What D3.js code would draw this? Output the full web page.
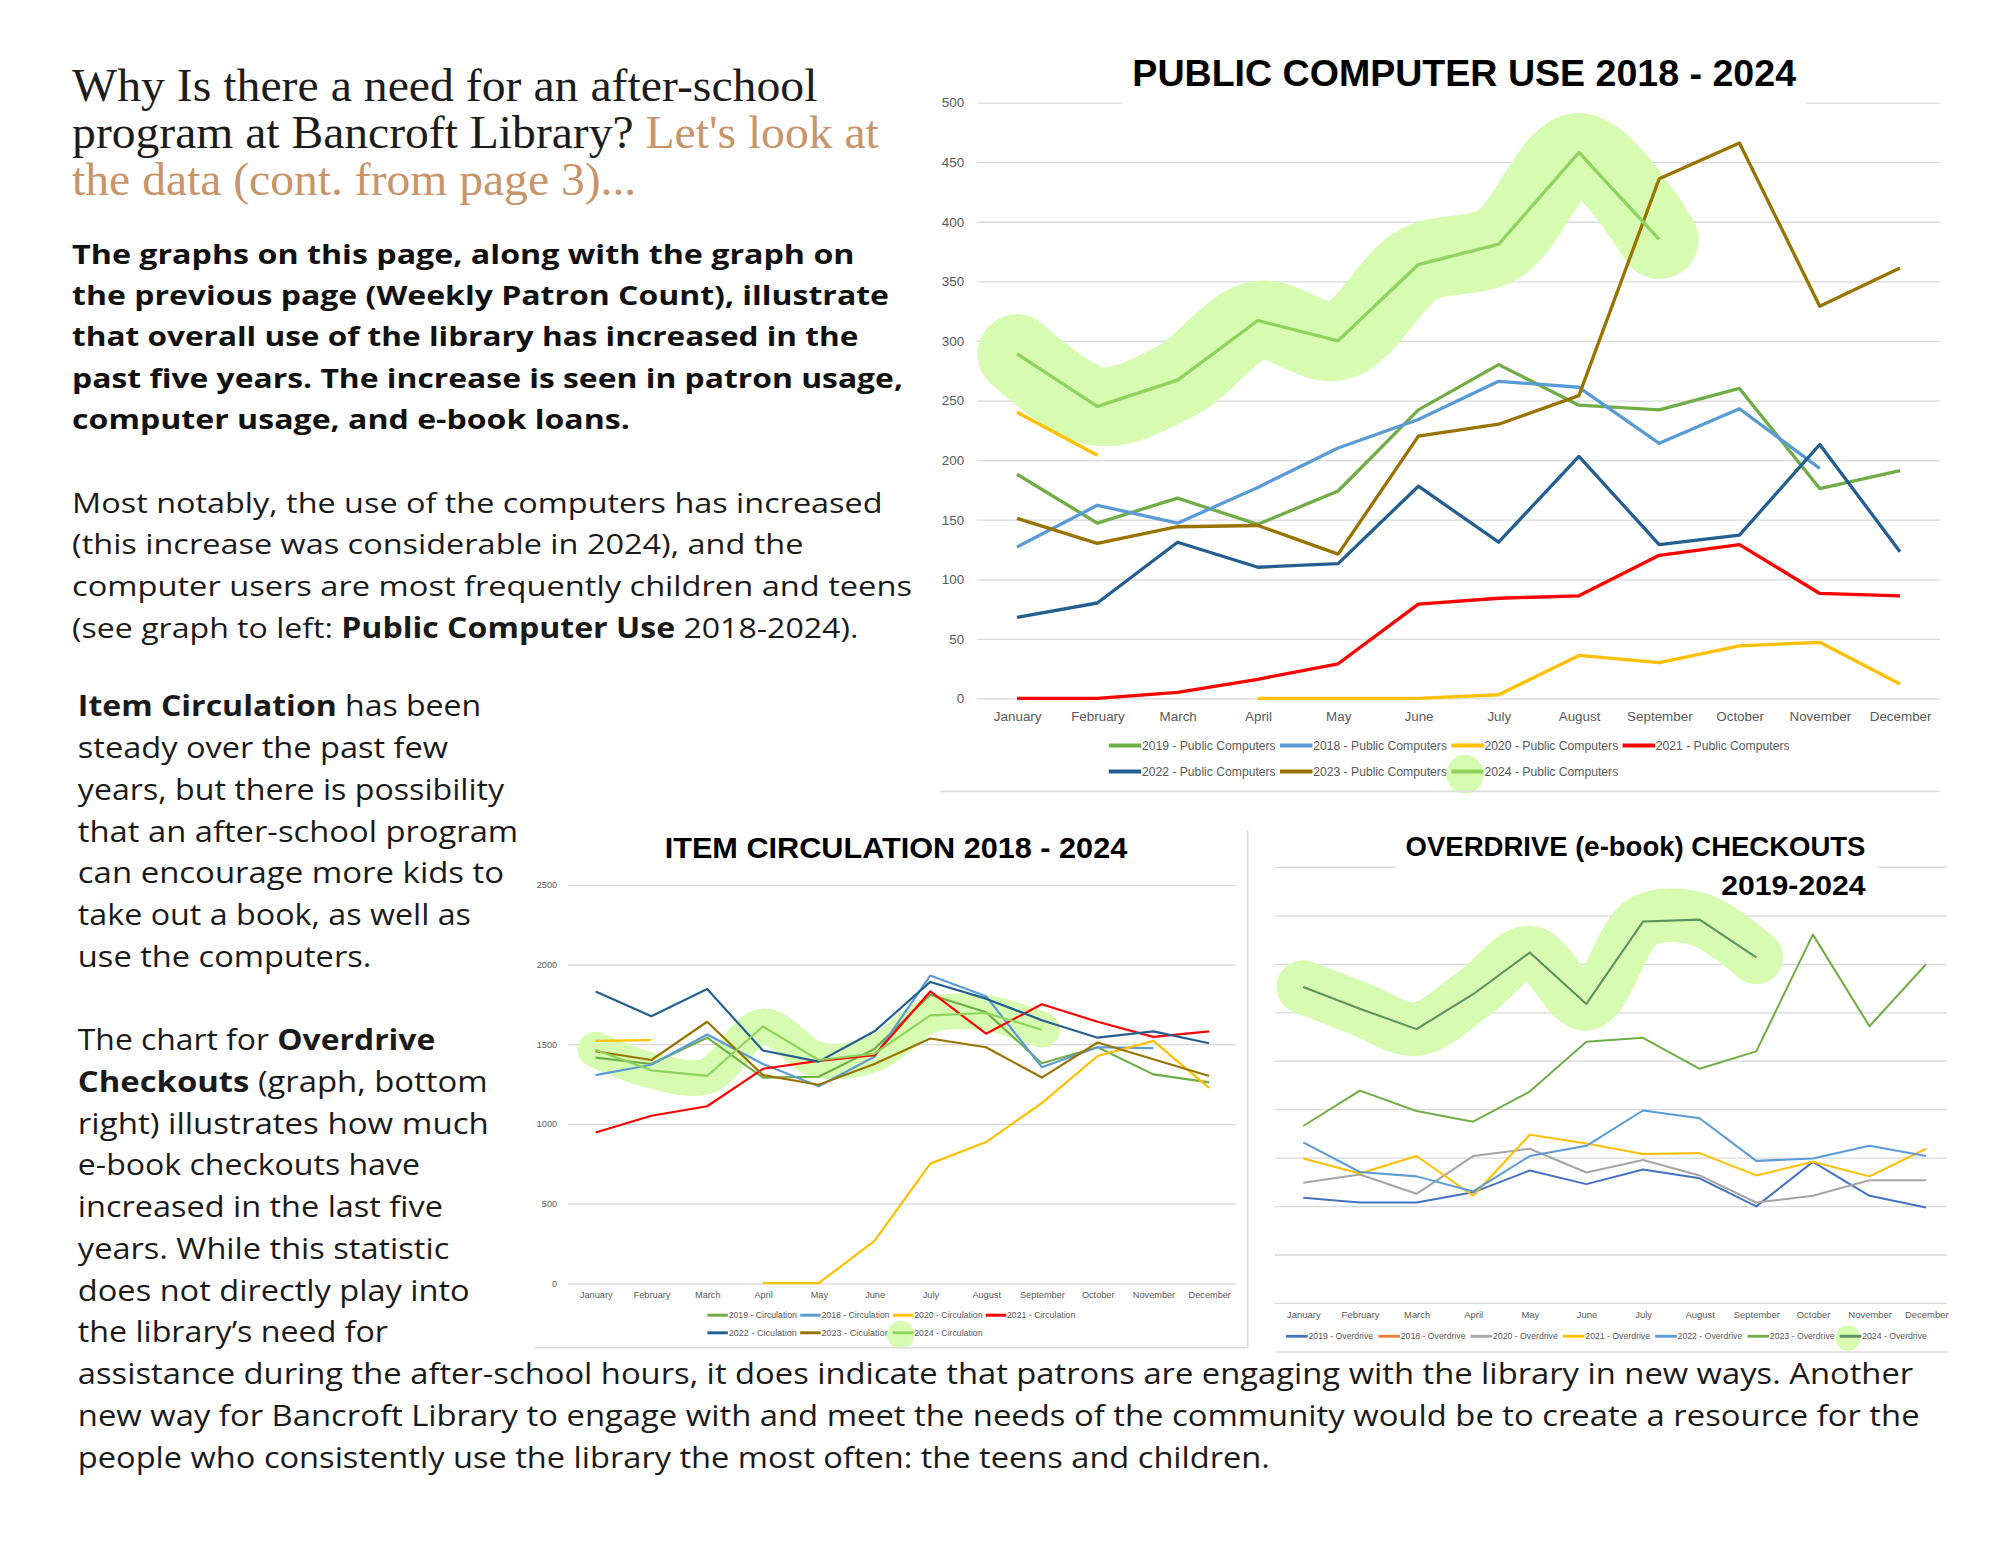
<!DOCTYPE html>
<html>
<head>
<meta charset="utf-8">
<script src="https://cdn.jsdelivr.net/npm/d3@7"></script>
<style>
  body { margin: 0; background: #fff; }
  svg { display: block; }
</style>
</head>
<body>
<script>
//month categories shared by the three charts
var months = ["January", "February", "March", "April", "May", "June",
              "July", "August", "September", "October", "November", "December"];

//public computer use
var pcNames = ["2019 - Public Computers", "2018 - Public Computers", "2020 - Public Computers",
               "2021 - Public Computers", "2022 - Public Computers", "2023 - Public Computers",
               "2024 - Public Computers"];
var pc2019 = [188, 147, 168, 146, 174, 242, 280, 246, 242, 260, 176, 191];
var pc2018 = [127, 162, 147, 177, 210, 234, 266, 261, 214, 243, 193, null];
var pc2020 = [240, 204, null, 0, 0, 0, 3, 36, 30, 44, 47, 12];
var pc2021 = [0, 0, 5, 16, 29, 79, 84, 86, 120, 129, 88, 86];
var pc2022 = [68, 80, 131, 110, 113, 178, 131, 203, 129, 137, 213, 123];
var pc2023 = [151, 130, 144, 145, 121, 220, 230, 254, 436, 466, 329, 361];
var pc2024 = [289, 245, 267, 317, 300, 364, 381, 458, 385, null, null, null];
var pcTicks = [0, 50, 100, 150, 200, 250, 300, 350, 400, 450, 500];

//item circulation
var icNames = ["2019 - Circulation", "2018 - Circulation", "2020 - Circulation",
               "2021 - Circulation", "2022 - Ciculation", "2023 - Ciculation",
               "2024 - Circulation"];
var ic2019 = [1415, 1375, 1540, 1290, 1295, 1470, 1810, 1700, 1380, 1480, 1310, 1260];
var ic2018 = [1305, 1370, 1560, 1375, 1235, 1420, 1930, 1800, 1355, 1480, 1475, null];
var ic2020 = [1520, 1525, null, 0, 0, 265, 750, 885, 1130, 1425, 1520, 1225];
var ic2021 = [945, 1050, 1110, 1345, 1395, 1430, 1830, 1565, 1750, 1640, 1545, 1580];
var ic2022 = [1830, 1675, 1845, 1460, 1390, 1580, 1890, 1785, 1650, 1540, 1580, 1505];
var ic2023 = [1455, 1400, 1640, 1305, 1245, 1375, 1535, 1480, 1290, 1510, 1405, 1300];
var ic2024 = [1465, 1335, 1300, 1610, 1400, 1440, 1680, 1695, 1590, null, null, null];
var icTicks = [0, 500, 1000, 1500, 2000, 2500];

//overdrive checkouts (no value labels on the original, read in grid units)
var odNames = ["2019 - Overdrive", "2018 - Overdrive", "2020 - Overdrive", "2021 - Overdrive",
               "2022 - Overdrive", "2023 - Overdrive", "2024 - Overdrive"];
var od2019 = [217, 207, 207, 228, 273, 245, 275, 257, 199, 291, 221, 197];
var od2018 = [null, null, null, null, null, null, null, null, null, null, null, null];
var od2020 = [248, 265, 225, 303, 318, 269, 295, 263, 207, 221, 253, 253];
var od2021 = [298, 267, 303, 221, 347, 329, 307, 309, 263, 291, 261, 318];
var od2022 = [331, 270, 261, 230, 303, 324, 397, 381, 293, 298, 324, 303];
var od2023 = [365, 438, 396, 374, 436, 539, 547, 483, 519, 760, 571, 699];
var od2024 = [652, 607, 565, 637, 723, 617, 787, 791, 713, null, null, null];
var odTicks = [0, 100, 200, 300, 400, 500, 600, 700, 800, 900];

//page text
var headingLines = [
    [["Why Is there a need for an after-school", 0]],
    [["program at Bancroft Library? ", 0], ["Let's look at", 1]],
    [["the data (cont. from page 3)...", 1]]
];
var boldLines = [
    "The graphs on this page, along with the graph on",
    "the previous page (Weekly Patron Count), illustrate",
    "that overall use of the library has increased in the",
    "past five years. The increase is seen in patron usage,",
    "computer usage, and e-book loans."
];
var notablyLines = [
    [["Most notably, the use of the computers has increased", 0]],
    [["(this increase was considerable in 2024), and the", 0]],
    [["computer users are most frequently children and teens", 0]],
    [["(see graph to left: ", 0], ["Public Computer Use", 1], [" 2018-2024).", 0]]
];
var lowerLines = [
    [["Item Circulation", 1], [" has been", 0]],
    [["steady over the past few", 0]],
    [["years, but there is possibility", 0]],
    [["that an after-school program", 0]],
    [["can encourage more kids to", 0]],
    [["take out a book, as well as", 0]],
    [["use the computers.", 0]],
    null,
    [["The chart for ", 0], ["Overdrive", 1]],
    [["Checkouts", 1], [" (graph, bottom", 0]],
    [["right) illustrates how much", 0]],
    [["e-book checkouts have", 0]],
    [["increased in the last five", 0]],
    [["years. While this statistic", 0]],
    [["does not directly play into", 0]],
    [["the library\u2019s need for", 0]],
    [["assistance during the after-school hours, it does indicate that patrons are engaging with the library in new ways. Another", 0]],
    [["new way for Bancroft Library to engage with and meet the needs of the community would be to create a resource for the", 0]],
    [["people who consistently use the library the most often: the teens and children.", 0]]
];

//line widths measured from the page, used to fit the substitute fonts
var headingWidths = [584, 632, 442];
var boldWidths = [613, 640, 616, 651, 437];
var notablyWidths = [635, 573, 658, 616];
var lowerWidths = [316, 290, 334, 345, 334, 308, 230, 0, 280, 321, 322, 268, 286, 291, 307, 243, 1438, 1443, 934];

var highlight = "#d6fbb1";
var chartFont = "'Liberation Sans Narrow', 'Liberation Sans', sans-serif";
var bodyFont = "'Open Sans', 'Noto Sans', sans-serif";

var svg = d3.select("body").append("svg")
    .attr("width", 2000)
    .attr("height", 1545)
    .attr("viewBox", "0 0 1567 1210");

svg.append("rect").attr("width", 1567).attr("height", 1210).attr("fill", "#fff");

//write a block of lines, each line a list of [text, flag] segments
function writeLines(lines, widths, opt){
    lines.forEach(function(line, i){
        if (!line) return;
        var t = svg.append("text")
            .attr("x", opt.x)
            .attr("y", opt.y + i * opt.step)
            .attr("font-family", opt.font)
            .attr("font-size", opt.size)
            .attr("fill", opt.color)
            .attr("font-weight", opt.weight || 400)
            .attr("textLength", widths[i])
            .attr("lengthAdjust", "spacingAndGlyphs");
        line.forEach(function(seg){
            var s = t.append("tspan").text(seg[0]);
            if (seg[1] && opt.flagColor) s.attr("fill", opt.flagColor);
            if (seg[1] && opt.flagWeight) s.attr("font-weight", opt.flagWeight);
        });
    });
}

writeLines(headingLines, headingWidths, {
    x: 56.5, y: 78.7, step: 37.05, size: 36, color: "#1c1c1c",
    font: "'Liberation Serif', 'DejaVu Serif', serif", flagColor: "#c8946a"
});
writeLines(boldLines.map(function(d){ return [[d, 0]]; }), boldWidths, {
    x: 56.5, y: 206.3, step: 32.45, size: 21.5, color: "#111", weight: 700, font: bodyFont
});
writeLines(notablyLines, notablyWidths, {
    x: 56.5, y: 401.4, step: 32.7, size: 22, color: "#1a1a1a", font: bodyFont, flagWeight: 700
});
writeLines(lowerLines, lowerWidths, {
    x: 61, y: 561, step: 32.7, size: 22.5, color: "#1a1a1a", font: bodyFont, flagWeight: 700
});

//draw one Excel style line chart
function drawChart(opt){
    var g = svg.append("g");

    var x = d3.scalePoint()
        .domain(months)
        .range([opt.x0, opt.x1])
        .padding(0.5);

    var y = d3.scaleLinear()
        .domain([0, d3.max(opt.ticks)])
        .range([opt.y0, opt.y1]);

    //gridlines and y labels
    var yAxis = g.append("g")
        .attr("transform", "translate(" + opt.x0 + ",0)")
        .call(d3.axisLeft(y)
            .tickValues(opt.ticks)
            .tickSize(-(opt.gridEnd - opt.x0))
            .tickPadding(opt.yPad)
            .tickFormat(opt.showY ? d3.format("d") : ""));
    yAxis.select(".domain").remove();
    yAxis.selectAll("line").attr("stroke", "#d9d9d9").attr("stroke-width", 1);
    yAxis.selectAll("text")
        .attr("fill", "#595959")
        .attr("font-family", chartFont)
        .attr("font-size", opt.tickSize);

    //white box behind the title breaks the top gridline
    if (opt.gap) {
        g.append("rect")
            .attr("x", opt.gap[0])
            .attr("y", y(d3.max(opt.ticks)) - 4)
            .attr("width", opt.gap[1] - opt.gap[0])
            .attr("height", 8)
            .attr("fill", "#fff");
    }

    //month labels
    var xAxis = g.append("g")
        .attr("transform", "translate(0," + opt.y0 + ")")
        .call(d3.axisBottom(x).tickSize(0));
    xAxis.select(".domain").remove();
    xAxis.selectAll("text")
        .attr("y", opt.xLabelY)
        .attr("dy", 0)
        .attr("fill", "#595959")
        .attr("font-family", chartFont)
        .attr("font-size", opt.tickSize);

    var line = d3.line()
        .defined(function(d){ return d != null; })
        .x(function(d, i){ return x(months[i]); })
        .y(function(d){ return y(d); });

    //hand drawn highlight behind the 2024 series
    var last = opt.series[opt.series.length - 1];
    g.append("path")
        .datum(last.values)
        .attr("d", line.curve(d3.curveCatmullRom.alpha(0.5)))
        .attr("fill", "none")
        .attr("stroke", highlight)
        .attr("stroke-width", opt.glow)
        .attr("stroke-linecap", "round")
        .attr("stroke-linejoin", "round");
    line.curve(d3.curveLinear);

    g.selectAll(".series")
        .data(opt.series)
        .enter()
        .append("path")
        .attr("class", "series")
        .attr("d", function(d){ return line(d.values); })
        .attr("fill", "none")
        .attr("stroke", function(d){ return d.color; })
        .attr("stroke-width", opt.lineWidth)
        .attr("stroke-linejoin", "round");

    //legend
    var lg = opt.legend;
    var items = g.selectAll(".legend")
        .data(opt.series)
        .enter()
        .append("g")
        .attr("class", "legend")
        .attr("transform", function(d, i){
            var col = i % lg.perRow, row = Math.floor(i / lg.perRow);
            return "translate(" + (lg.x + col * lg.step) + "," + lg.rows[row] + ")";
        });
    items.filter(function(d, i){ return i === opt.series.length - 1; })
        .append("ellipse")
        .attr("cx", lg.swatch / 2 - 2)
        .attr("cy", lg.blob * 0.15)
        .attr("rx", lg.blob)
        .attr("ry", lg.blob * 1.05)
        .attr("fill", highlight);
    items.append("line")
        .attr("x2", lg.swatch)
        .attr("stroke", function(d){ return d.color; })
        .attr("stroke-width", opt.lineWidth + 0.6);
    items.append("text")
        .attr("x", lg.swatch + 0.6)
        .attr("dy", "0.35em")
        .attr("fill", "#595959")
        .attr("font-family", chartFont)
        .attr("font-size", lg.size)
        .attr("textLength", lg.textW)
        .attr("lengthAdjust", "spacingAndGlyphs")
        .text(function(d){ return d.name; });

    //title
    opt.title.forEach(function(t){
        g.append("text")
            .attr("x", t.x)
            .attr("y", t.y)
            .attr("text-anchor", t.anchor || "start")
            .attr("font-family", chartFont)
            .attr("font-weight", 700)
            .attr("font-size", opt.titleSize)
            .attr("fill", "#000")
            .attr("textLength", t.w)
            .attr("lengthAdjust", "spacingAndGlyphs")
            .text(t.text);
    });

    //frame lines
    opt.frame.forEach(function(f){
        g.append("line")
            .attr("x1", f[0]).attr("y1", f[1])
            .attr("x2", f[2]).attr("y2", f[3])
            .attr("stroke", "#dedede")
            .attr("stroke-width", 1.2);
    });
}

function makeSeries(names, arrays, colors){
    return names.map(function(n, i){
        return { name: n, values: arrays[i], color: colors[i] };
    });
}

drawChart({
    series: makeSeries(pcNames, [pc2019, pc2018, pc2020, pc2021, pc2022, pc2023, pc2024],
        ["#70ad47", "#5b9bd5", "#ffc000", "#ff0000", "#255e91", "#997300", "#8fd35f"]),
    ticks: pcTicks, showY: true,
    x0: 765.4, x1: 1520.1, gridEnd: 1520.1, y0: 546.9, y1: 80,
    yPad: 10, xLabelY: 17.5, tickSize: 10.5, lineWidth: 2.6, glow: 62,
    gap: [878.2, 1415.2],
    legend: { x: 868.7, step: 134.2, rows: [583.9, 604.2], perRow: 4, swatch: 25.4, textW: 104.8, size: 10.5, blob: 14.5 },
    title: [{ text: "PUBLIC COMPUTER USE 2018 - 2024", x: 887.2, y: 67.2, w: 520 }],
    titleSize: 29,
    frame: [[736.3, 619.8, 1520, 619.8]]
});

drawChart({
    series: makeSeries(icNames, [ic2019, ic2018, ic2020, ic2021, ic2022, ic2023, ic2024],
        ["#70ad47", "#5b9bd5", "#ffc000", "#ff0000", "#255e91", "#997300", "#8fd35f"]),
    ticks: icTicks, showY: true,
    x0: 444.8, x1: 969.2, gridEnd: 968.2, y0: 1005.1, y1: 692.9,
    yPad: 8.3, xLabelY: 11.9, tickSize: 7.2, lineWidth: 1.7, glow: 28,
    legend: { x: 554.2, step: 72.7, rows: [1030.2, 1044], perRow: 4, swatch: 16.1, textW: 53.5, size: 7, blob: 10.5 },
    title: [{ text: "ITEM CIRCULATION 2018 - 2024", x: 520.8, y: 671.7, w: 362.4 }],
    titleSize: 23,
    frame: [[977.6, 650.7, 977.6, 1055.7], [418.5, 1055.7, 977.6, 1055.7]]
});

drawChart({
    series: makeSeries(odNames, [od2019, od2018, od2020, od2021, od2022, od2023, od2024],
        ["#4472c4", "#ed7d31", "#a5a5a5", "#ffc000", "#5b9bd5", "#70ad47", "#5e8f5e"]),
    ticks: odTicks, showY: false,
    x0: 998.9, x1: 1531.3, gridEnd: 1525.5, y0: 1020.5, y1: 678.9,
    yPad: 4, xLabelY: 12, tickSize: 7.4, lineWidth: 1.6, glow: 42,
    gap: [1094, 1471.5],
    legend: { x: 1007.6, step: 72.3, rows: [1046.7], perRow: 7, swatch: 17, textW: 50.7, size: 7, blob: 9.6 },
    title: [
        { text: "OVERDRIVE (e-book) CHECKOUTS", x: 1101.3, y: 670.3, w: 360.3 },
        { text: "2019-2024", x: 1348.6, y: 701, w: 113 }
    ],
    titleSize: 21,
    frame: [[999.2, 1059, 1525.5, 1059]]
});
</script>
</body>
</html>
